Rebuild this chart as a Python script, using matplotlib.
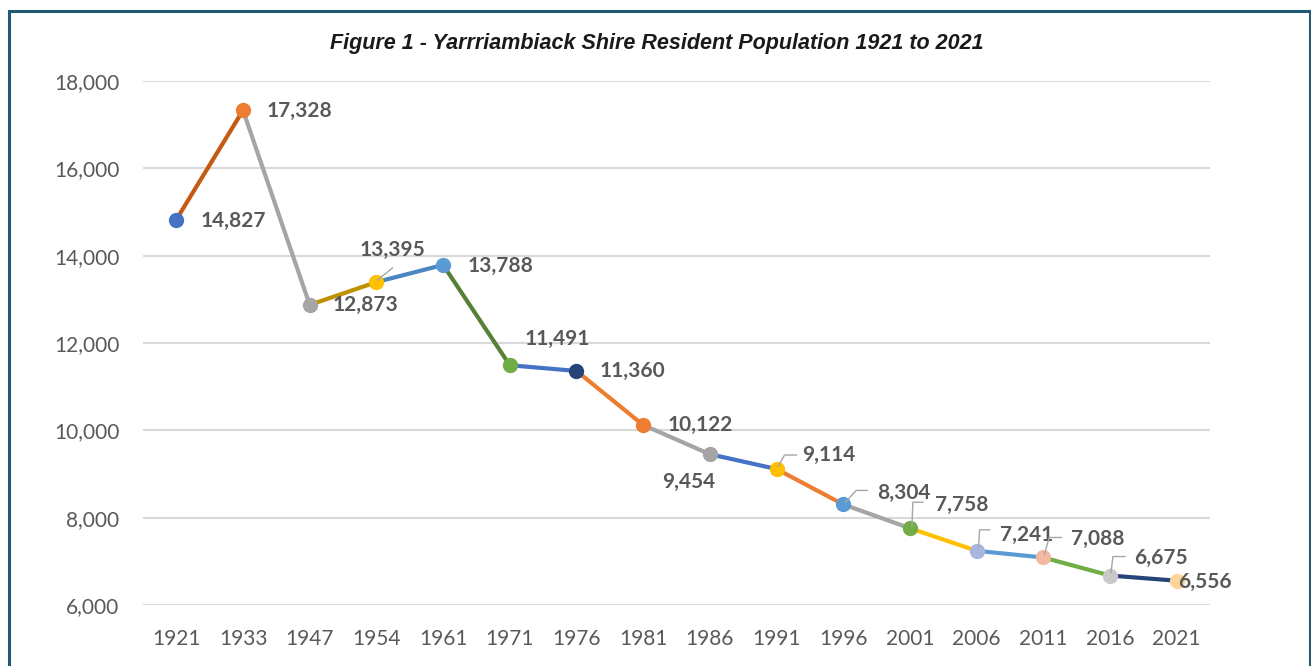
import matplotlib.pyplot as plt
from matplotlib.patches import Rectangle
from matplotlib.transforms import IdentityTransform

# ==== data ====
years = ["1921", "1933", "1947", "1954", "1961", "1971", "1976", "1981",
         "1986", "1991", "1996", "2001", "2006", "2011", "2016", "2021"]
population = [14827, 17328, 12873, 13395, 13788, 11491, 11360, 10122,
              9454, 9114, 8304, 7758, 7241, 7088, 6675, 6556]

# ==== styles ====
point_colors = ["#4472C4", "#ED7D31", "#A5A5A5", "#FFC000", "#5B9BD5", "#70AD47",
                "#264478", "#ED7D31", "#A5A5A5", "#FFC000", "#5B9BD5", "#70AD47",
                "#A9B5E0", "#F4B8A0", "#C9C9C9", "#FFD49A"]
# colour of the segment ending at point i
segment_colors = [None, "#C55A11", "#A5A5A5", "#BF9000", "#4A86C0", "#548235",
                  "#4472C4", "#ED7D31", "#A5A5A5", "#4472C4", "#ED7D31", "#A5A5A5",
                  "#FFC000", "#5B9BD5", "#70AD47", "#264478"]
# label offsets in pixels (left edge, vertical centre), y up
label_offsets = [(24, -1), (24, -1), (23, 0), (-17, 32), (24, -1), (15, 26),
                 (23, 0), (24, 0), (-48, -28), (26, 14), (34, 11), (25, 23),
                 (23, 16), (28, 19), (24, 18), (1, -1)]
leaders = {
    3: [(1, 2), (16, 14)],
    9: [(2, 3), (8, 14), (20, 14)],
    10: [(2, 2), (13, 14), (24, 14)],
    11: [(2, 2), (3, 26), (13, 26)],
    12: [(2, 3), (3, 21), (13, 21)],
    13: [(1, 3), (6, 20), (18, 20)],
    14: [(1, 3), (3, 19), (15, 19)],
}

W, H = 1311, 666
fig = plt.figure(figsize=(W / 100, H / 100), dpi=100)
ax = fig.add_axes([143 / W, 1 - 605 / H, 1067 / W, 524 / H])

x = list(range(len(years)))
for i in range(1, len(x)):
    ax.plot(x[i - 1:i + 1], population[i - 1:i + 1], color=segment_colors[i],
            lw=3.0, solid_capstyle="round", zorder=3)
for i in range(len(x)):
    ax.plot(x[i], population[i], "o", ms=10, color=point_colors[i],
            mec=point_colors[i], zorder=4)

ax.set_xlim(-0.5, len(x) - 0.5)
ax.set_ylim(6000, 18000)
ax.set_yticks(range(6000, 18001, 2000))
ax.set_yticklabels([f"{v:,}" for v in range(6000, 18001, 2000)])
ax.set_xticks(x)
ax.set_xticklabels(years)
ax.grid(axis="y", color="#D9D9D9", lw=1.5)
ax.set_axisbelow(True)
for s in ax.spines.values():
    s.set_visible(False)
ax.tick_params(length=0, labelsize=15, labelcolor="#595959")
ax.tick_params(axis="x", pad=17)
ax.tick_params(axis="y", pad=17)
for t in ax.get_xticklabels() + ax.get_yticklabels():
    t.set_fontfamily("Lato")

for i, (xi, v) in enumerate(zip(x, population)):
    dx, dy = label_offsets[i]
    ax.annotate(f"{v:,}", (xi, v), xytext=(dx, dy), textcoords="offset pixels",
                ha="left", va="center", fontsize=15, fontweight="bold",
                color="#595959", family="Lato", zorder=5)

# leader lines (pixel coordinates)
fig.canvas.draw()
for i, pts in leaders.items():
    px, py = ax.transData.transform((x[i], population[i]))
    xs = [px + a for a, b in pts]
    ys = [py + b for a, b in pts]
    fig.add_artist(plt.Line2D(xs, ys, color="#A6A6A6", lw=1.0,
                              transform=IdentityTransform(), zorder=6))

fig.text(657 / W, 1 - 44 / H, "Figure 1 - Yarrriambiack Shire Resident Population 1921 to 2021",
         ha="center", va="center", fontsize=15.5, fontweight="bold", style="italic",
         family="Liberation Sans", color="#1A1A1A")

fig.add_artist(Rectangle((8.5 / W, -0.1), (1309.5 - 8.5) / W, 1.1 - 11.3 / H,
                         transform=fig.transFigure, fill=False, ec="#1F5A72", lw=2.2))

fig.savefig("out.png", dpi=100)
